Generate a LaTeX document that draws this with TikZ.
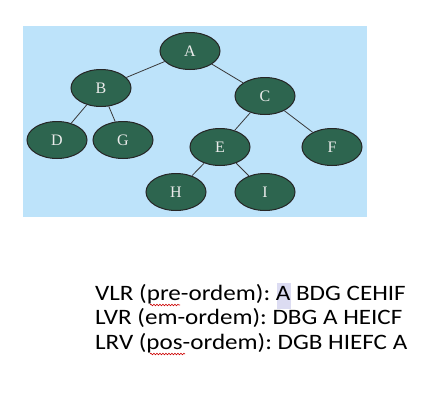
\documentclass[tikz,border=0pt]{standalone}
\usepackage{fontspec}
\setmainfont{Liberation Serif}
\newfontfamily\calib[FakeStretch=1.14]{Carlito}
\usepackage{xcolor}
\usetikzlibrary{shapes.geometric, positioning, decorations.pathmorphing}

\definecolor{skyblue}{HTML}{BDE3FA}
\definecolor{leafgreen}{HTML}{2D654F}
\definecolor{edgegray}{HTML}{3A3A3A}
\definecolor{marklav}{HTML}{DCDCF2}

\begin{document}
\frenchspacing
\begin{tikzpicture}[x=1pt, y=-1pt,
  vertex/.style={ellipse, draw=black!85, line width=1pt, fill=leafgreen,
    minimum width=60pt, minimum height=37pt, inner sep=0pt,
    text=white!92!black, font=\fontsize{16}{16}\selectfont},
  walk/.style={anchor=base west, inner sep=0pt, font=\calib\fontsize{22}{22}\selectfont},
  squiggle/.style={red!80!black, line width=0.6pt,
    decorate, decoration={snake, amplitude=0.8pt, segment length=3pt}}]
  \useasboundingbox (0,0) rectangle (441,407);
  \fill[skyblue] (23,26) rectangle (367,217);

  % the tree
  \node[vertex] (A) at (190,51) {A};
  \node[vertex] (B) at (101,88) {B};
  \node[vertex] (C) at (265,96) {C};
  \node[vertex] (D) at (57,140) {D};
  \node[vertex] (G) at (123,140) {G};
  \node[vertex] (E) at (220,147) {E};
  \node[vertex] (F) at (332,147) {F};
  \node[vertex] (H) at (176,192) {H};
  \node[vertex] (I) at (265,192) {I};

  \path[draw=edgegray, line width=0.8pt]
    (A) edge (B)
    (A) edge (C)
    (B) edge (D)
    (B) edge (G)
    (C) edge (E)
    (C) edge (F)
    (E) edge (H)
    (E) edge (I);

  % traversals
  \fill[marklav] (277,283) rectangle (291,309);
  \node[walk] (vlr) at (95,300.5) {VLR (pre-ordem): A BDG CEHIF};
  \node[walk] (lvr) at (95,324.5) {LVR (em-ordem): DBG A HEICF};
  \node[walk] (lrv) at (95,349.5) {LRV (pos-ordem): DGB HIEFC A};
  \coordinate (pre1) at (150,305);
  \coordinate (pre2) at (180,305);
  \coordinate (pos1) at (150,354);
  \coordinate (pos2) at (185,354);
  \draw[squiggle] (pre1) -- (pre2);
  \draw[squiggle] (pos1) -- (pos2);
\end{tikzpicture}
\end{document}
